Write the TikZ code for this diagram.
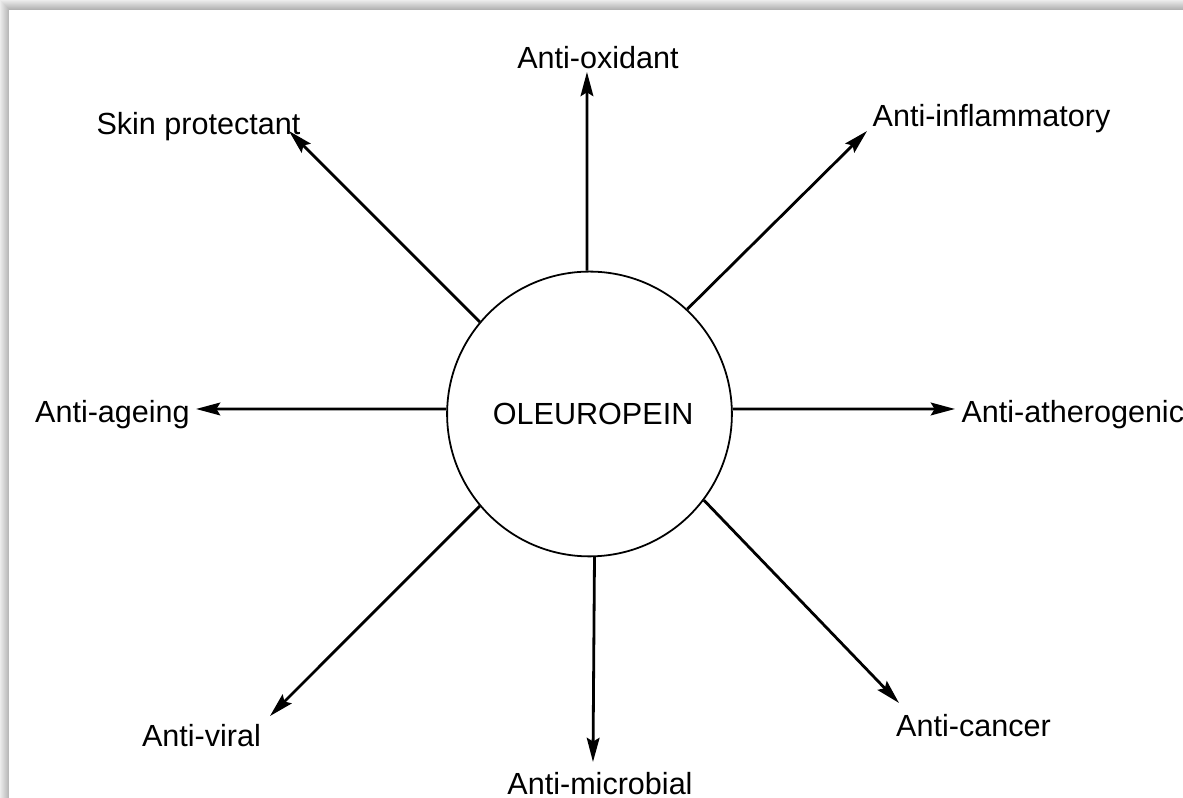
\documentclass[tikz,border=0pt]{standalone}
\usepackage{fontspec}
\setmainfont{Liberation Sans}
\usetikzlibrary{arrows.meta}

\begin{document}
\begin{tikzpicture}[
    effect/.style={font=\fontsize{12}{14}\selectfont, inner sep=0pt, anchor=base},
    link/.style={-{Stealth[length=9.5pt, width=5pt, inset=1.5pt]}, line width=1.1pt},
  ]
    % Page with soft shadow along top and left edge
    \useasboundingbox (-8.135,-5.299) rectangle (8.19,5.713);
    \foreach \i in {0,...,9} {
        \pgfmathtruncatemacro{\shade}{15+5*\i}
        \fill[gray!\shade] (-8.135+0.0138*\i,5.713-0.0138*\i) rectangle (8.19,-5.299);
    }
    \fill[white] (-8.011,5.575) rectangle (8.19,-5.299);

    % Central compound
    \node[circle, draw, line width=0.7pt, minimum size=3.93cm, inner sep=0pt,
          font=\fontsize{12}{14}\selectfont] (oleu) at (0,0) {\hspace*{0.1cm}OLEUROPEIN};

    % Effects
    \node[effect] (ox)   at (0.117,4.761)   {Anti-oxidant};
    \node[effect] (skin) at (-5.396,3.850)  {Skin protectant};
    \node[effect] (infl) at (5.548,3.961)   {Anti-inflammatory};
    \node[effect, anchor=base west] (ath) at (5.127,-0.124) {Anti-atherogenic};
    \node[effect] (age)  at (-6.583,-0.124) {Anti-ageing};
    \node[effect] (vir)  at (-5.354,-4.582) {Anti-viral};
    \node[effect] (mic)  at (0.145,-5.244)  {Anti-microbial};
    \node[effect] (can)  at (5.299,-4.457)  {Anti-cancer};

    % Arrow tips next to the labels
    \coordinate (ox-tip)   at (-0.035,4.720);
    \coordinate (skin-tip) at (-4.147,3.905);
    \coordinate (infl-tip) at (3.830,3.905);
    \coordinate (ath-tip)  at (5.044,0.069);
    \coordinate (age-tip)  at (-5.430,0.069);
    \coordinate (vir-tip)  at (-4.409,-4.168);
    \coordinate (mic-tip)  at (0.048,-4.802);
    \coordinate (can-tip)  at (4.271,-3.988);

    % Arrows out of the circle
    \foreach \ang/\tip in {91/ox, 140/skin, 47.4/infl, 2/ath, 178/age, -140/vir, -88.6/mic, -37.8/can} {
        \draw[link] (oleu.\ang) -- (\tip-tip);
    }
\end{tikzpicture}
\end{document}
